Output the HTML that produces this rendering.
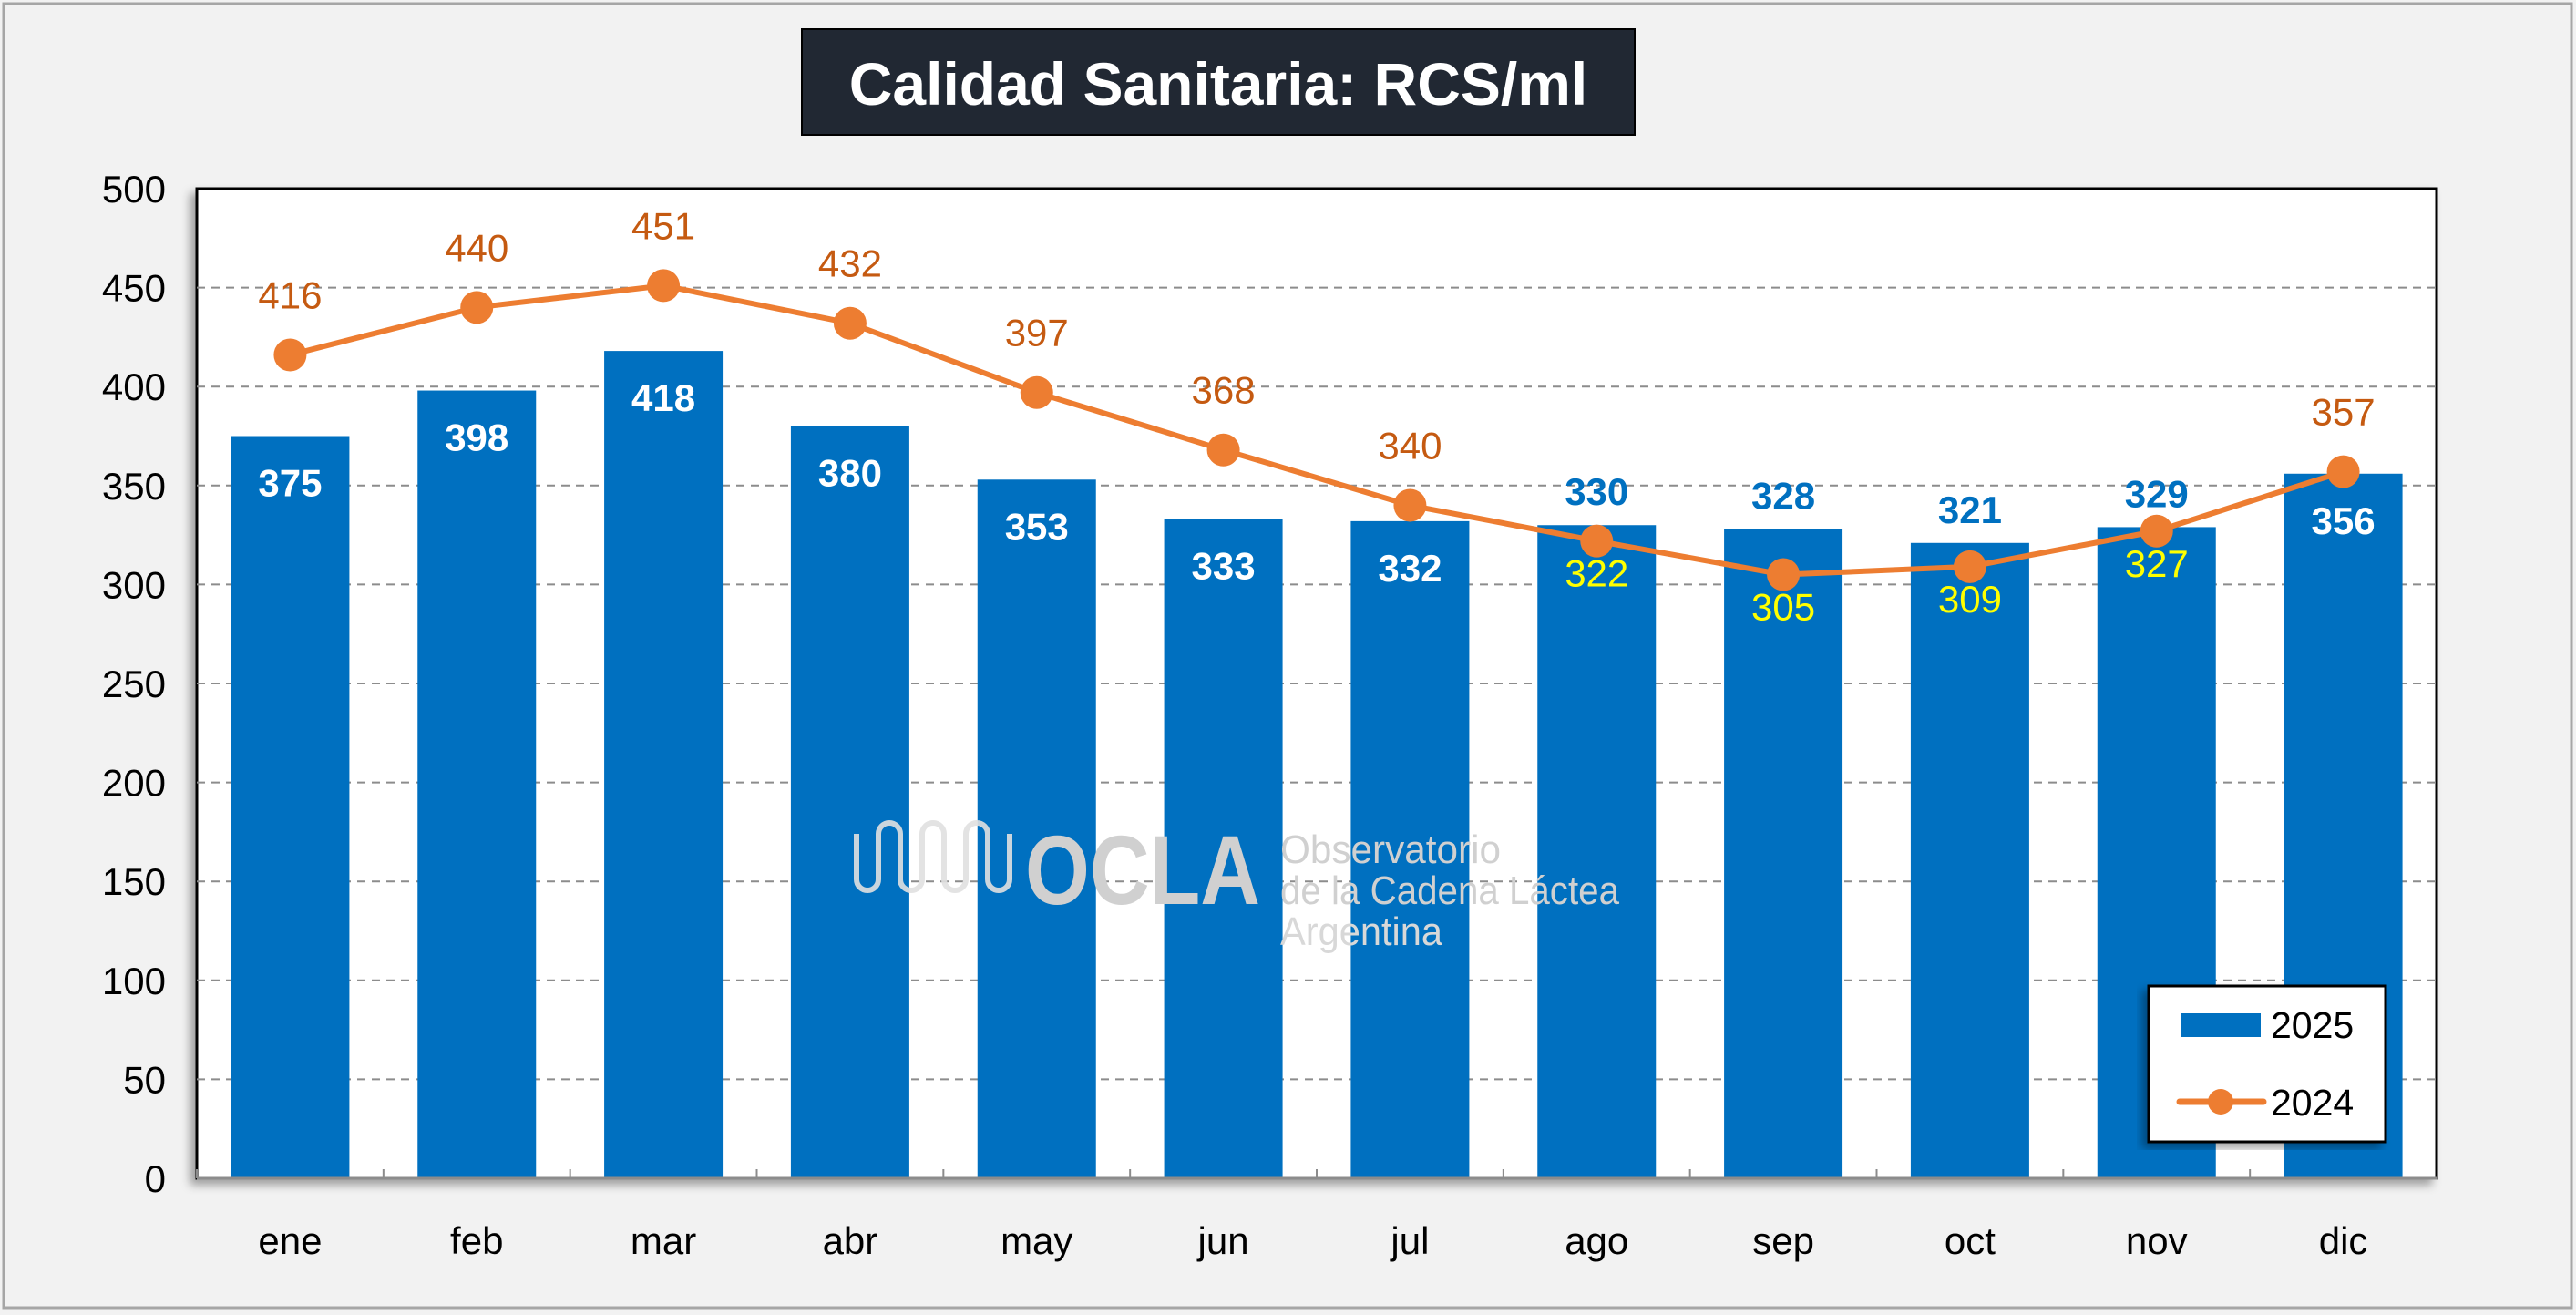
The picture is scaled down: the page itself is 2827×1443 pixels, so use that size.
<!DOCTYPE html>
<html><head><meta charset="utf-8"><style>
html,body{margin:0;padding:0;background:#f2f2f2}
svg{display:block;font-family:"Liberation Sans",sans-serif}
</style></head><body>
<svg id="chart" width="2827" height="1443" viewBox="0 0 2827 1443">
<defs>
<filter id="sh" x="-5%" y="-5%" width="110%" height="110%"><feDropShadow dx="-6" dy="6" stdDeviation="5" flood-color="#000" flood-opacity="0.35"/></filter>
</defs>
<rect x="4" y="4" width="2818" height="1431" fill="#f2f2f2" stroke="#a6a6a6" stroke-width="3"/>
<rect x="880" y="32" width="914" height="116" fill="#212833" stroke="#000" stroke-width="2"/>
<text x="1337" y="115" text-anchor="middle" font-size="66" font-weight="bold" fill="#fff">Calidad Sanitaria: RCS/ml</text>
<rect x="216" y="207" width="2458" height="1086" fill="#fff" stroke="#000" stroke-width="3" filter="url(#sh)"/>
<g id="grid"></g>
<g id="bars"></g>
<g id="wm">
<path d="M940 915 v50 a12 12 0 0 0 24 0 v-50 a12 12 0 0 1 24 0 v50 a12 12 0 0 0 24 0 v-50 a12 12 0 0 1 24 0 v50 a12 12 0 0 0 24 0 v-50 a12 12 0 0 1 24 0 v50 a12 12 0 0 0 24 0 v-50" fill="none" stroke="#e0e0e0" stroke-width="6" opacity="0.9"/>
<text x="1125" y="992" font-size="108" font-weight="bold" fill="#d0d0d0" textLength="258" lengthAdjust="spacingAndGlyphs">OCLA</text>
<text x="1405" y="947" font-size="44" fill="#d0d0d0" textLength="242" lengthAdjust="spacingAndGlyphs">Observatorio</text>
<text x="1405" y="992" font-size="44" fill="#d0d0d0" textLength="372" lengthAdjust="spacingAndGlyphs">de la Cadena Láctea</text>
<text x="1405" y="1037" font-size="44" fill="#d8d8d8" textLength="178" lengthAdjust="spacingAndGlyphs">Argentina</text>
</g>
<g id="line"></g>
<g id="labels"></g>
<g id="axes"></g>
<g>
<rect x="2358" y="1082" width="260" height="171" fill="#fff" stroke="#000" stroke-width="3" filter="url(#sh)"/>
<rect x="2393" y="1112" width="88" height="26" fill="#0070c0"/>
<text x="2492" y="1139" font-size="41" fill="#000">2025</text>
<line x1="2392" y1="1209" x2="2484" y2="1209" stroke="#ed7d31" stroke-width="7" stroke-linecap="round"/>
<circle cx="2437" cy="1209" r="14" fill="#ed7d31"/>
<text x="2492" y="1224" font-size="41" fill="#000">2024</text>
</g>
</svg>
<script>
const categories=["ene","feb","mar","abr","may","jun","jul","ago","sep","oct","nov","dic"];
const values2025=[375,398,418,380,353,333,332,330,328,321,329,356];
const values2024=[416,440,451,432,397,368,340,322,305,309,327,357];
const yTicks=[0,50,100,150,200,250,300,350,400,450,500];
const NS="http://www.w3.org/2000/svg";
const L=216,R=2674,T=207,B=1293,YMAX=500;
const bw=(R-L)/12;
function x(i){return L+bw*(i+0.5);}
function y(v){return B-(B-T)*v/YMAX;}
function mk(tag,attrs,parent,txt){const e=document.createElementNS(NS,tag);for(const k in attrs)e.setAttribute(k,attrs[k]);if(txt!==undefined)e.textContent=txt;document.getElementById(parent).appendChild(e);return e;}
yTicks.forEach(t=>{
  if(t>0&&t<YMAX){const g=mk('line',{x1:L,x2:R,y1:y(t),y2:y(t),stroke:'#8c8c8c','stroke-width':2,'stroke-dasharray':'9 7'},'grid');
  
  }
  const tl=mk('text',{x:182,y:y(t)+15,'text-anchor':'end','font-size':42,fill:'#000'},'axes',String(t));
  
  
});
mk('line',{x1:L,x2:R,y1:B,y2:B,stroke:'#8c8c8c','stroke-width':3},'axes');
categories.forEach((c,i)=>{
  const tk=mk('line',{x1:L+bw*i,x2:L+bw*i,y1:B,y2:B-10,stroke:'#8c8c8c','stroke-width':2},'axes');
  
  
  const xl=mk('text',{x:x(i),y:1376,'text-anchor':'middle','font-size':42,fill:'#000'},'axes',c);
  
  
  const b=mk('rect',{x:x(i)-65,y:y(values2025[i]),width:130,height:B-y(values2025[i]),fill:'#0070c0'},'bars');
  
  
});
let d='';values2024.forEach((v,i)=>{d+=(i?'L':'M')+x(i)+' '+y(v);});
const pl=mk('path',{d:d,fill:'none',stroke:'#ed7d31','stroke-width':6,'stroke-linejoin':'round'},'line');


values2024.forEach((v,i)=>{
  const p=mk('circle',{cx:x(i),cy:y(v),r:18,fill:'#ed7d31'},'line');
  
  
});
values2025.forEach((v,i)=>{
  const v4=values2024[i];
  const below=v4<v;
  let a,b;
  if(below){
    a=mk('text',{x:x(i),y:y(v)-22,'text-anchor':'middle','font-size':42,'font-weight':'bold',fill:'#0070c0'},'labels',String(v));
    b=mk('text',{x:x(i),y:y(v4)+50,'text-anchor':'middle','font-size':42,fill:'#ffff00'},'labels',String(v4));
  }else{
    a=mk('text',{x:x(i),y:y(v)+66,'text-anchor':'middle','font-size':42,'font-weight':'bold',fill:'#fff'},'labels',String(v));
    b=mk('text',{x:x(i),y:y(v4)-51,'text-anchor':'middle','font-size':42,fill:'#c55a11'},'labels',String(v4));
  }
  
  
  
  
});
</script>
</body></html>
